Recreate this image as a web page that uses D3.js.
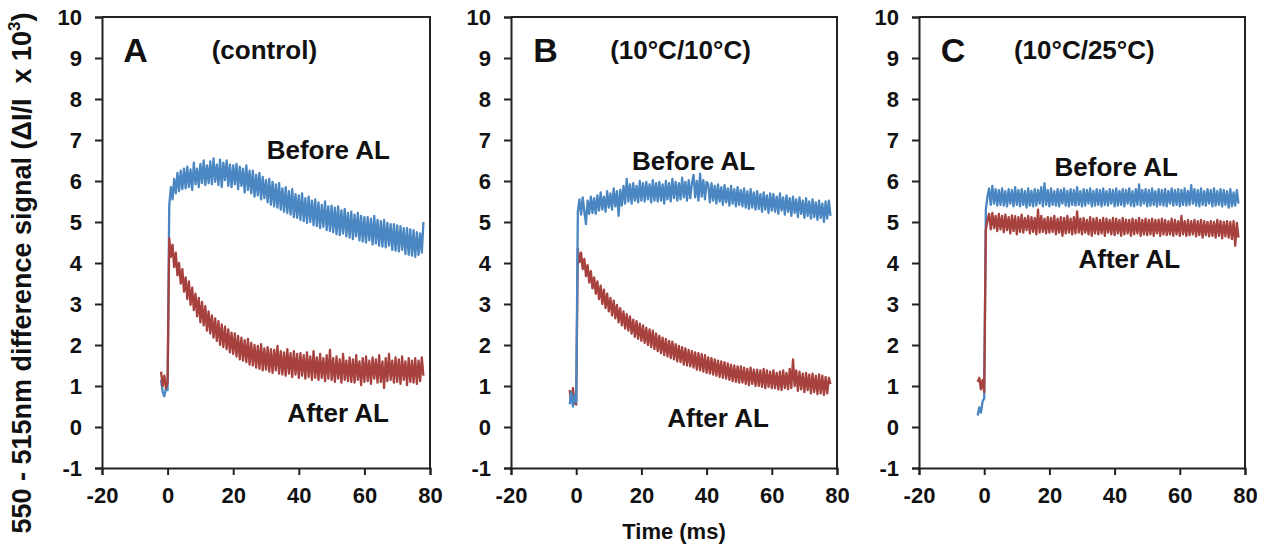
<!DOCTYPE html>
<html>
<head>
<meta charset="utf-8">
<script src="https://cdn.jsdelivr.net/npm/d3@7"></script>
<style>
  html, body { margin: 0; padding: 0; background: #fff; }
  svg { display: block; }
  text { font-family: "Liberation Sans", Arial, sans-serif; font-weight: bold; fill: #111; }
</style>
</head>
<body>
<svg id="chart" width="1271" height="549"></svg>
<script>
// ---------------- DATA ----------------
const panelIds = ["A", "B", "C"];
const panelConditions = ["(control)", "(10°C/10°C)", "(10°C/25°C)"];
const seriesNames = ["Before AL", "After AL"];
const xTicks = [-20, 0, 20, 40, 60, 80];
const yTicks = [-1, 0, 1, 2, 3, 4, 5, 6, 7, 8, 9, 10];
const xTitle = "Time (ms)";
const yTitle = "550 - 515nm difference signal (\u0394I/I  x 10";
const yTitleSup = "3";

// sample times (ms): -2 ... 78 every 0.5 ms
const sampleStart = -2, sampleStep = 0.5;

// Panel A (control)
const beforeA = [1.15,0.85,0.75,0.95,0.90,
5.40,5.85,5.55,6.05,5.70,6.20,5.75,6.25,5.80,6.30,
5.82,6.35,5.85,6.28,5.78,6.45,5.92,6.30,5.85,6.42,
5.95,6.50,5.90,6.38,5.95,6.48,5.92,6.55,5.98,6.40,
5.90,6.52,5.85,6.45,6.02,6.50,5.88,6.40,5.85,6.38,
5.92,6.42,5.80,6.35,5.88,6.30,5.72,6.38,5.78,6.25,
5.70,6.25,5.62,6.15,5.65,6.20,5.55,6.10,5.58,6.02,
5.48,6.05,5.42,5.98,5.38,5.92,5.35,5.95,5.30,5.82,
5.25,5.85,5.22,5.75,5.18,5.80,5.12,5.68,5.10,5.65,
5.05,5.70,5.02,5.58,4.98,5.62,5.00,5.52,4.92,5.55,
4.90,5.48,4.85,5.42,4.88,5.50,4.80,5.38,4.78,5.40,
4.75,5.35,4.70,5.38,4.68,5.28,4.72,5.32,4.65,5.22,
4.62,5.25,4.58,5.18,4.65,5.22,4.55,5.15,4.52,5.12,
4.50,5.12,4.55,5.08,4.45,5.15,4.48,5.05,4.42,5.02,
4.40,5.05,4.38,4.98,4.42,4.95,4.32,4.95,4.30,4.92,
4.28,4.90,4.32,4.85,4.22,4.85,4.20,4.82,4.18,4.80,
4.15,4.75,4.20,4.72,4.25,5.00];
const afterA = [1.35,1.00,1.25,0.95,1.10,
4.60,4.15,4.45,3.90,4.25,3.70,4.00,3.50,3.85,3.30,
3.65,3.12,3.55,2.98,3.40,2.85,3.25,2.70,3.15,2.55,
3.05,2.48,2.95,2.35,2.82,2.28,2.72,2.18,2.65,2.10,
2.58,2.00,2.50,1.95,2.45,1.90,2.38,1.82,2.30,1.78,
2.28,1.72,2.22,1.65,2.18,1.62,2.12,1.58,2.15,1.52,
2.05,1.50,2.00,1.45,1.98,1.42,2.02,1.38,1.92,1.40,
1.95,1.35,1.90,1.32,1.88,1.38,1.98,1.30,1.85,1.28,
1.82,1.25,1.90,1.30,1.80,1.22,1.85,1.28,1.78,1.20,
1.80,1.25,1.75,1.18,1.82,1.22,1.72,1.15,1.85,1.20,
1.70,1.15,1.78,1.20,1.68,1.12,1.75,1.18,1.88,1.15,
1.68,1.10,1.72,1.18,1.65,1.08,1.78,1.15,1.62,1.12,
1.70,1.10,1.65,1.08,1.75,1.15,1.60,1.02,1.68,1.10,
1.72,1.12,1.62,1.05,1.70,1.18,1.65,1.08,1.75,1.10,
1.60,0.95,1.68,1.12,1.78,1.15,1.62,1.08,1.70,1.10,
1.65,1.05,1.72,1.15,1.60,1.02,1.68,1.10,1.62,1.08,
1.68,1.05,1.62,1.12,1.70,1.25];

// Panel B (10°C/10°C)
const beforeB = [0.55,0.85,0.50,0.78,0.60,
5.25,5.55,5.18,5.60,5.25,4.95,5.52,5.20,5.62,5.22,
5.58,5.20,5.65,5.28,5.72,5.30,5.62,5.25,5.75,5.35,
5.70,5.30,5.82,5.38,5.75,5.15,5.78,5.40,5.88,5.45,
6.05,5.50,5.92,5.45,5.95,5.52,5.88,5.48,6.00,5.52,
5.95,5.50,5.98,5.55,5.92,5.48,6.02,5.52,5.95,5.50,
5.98,5.52,5.92,5.45,6.00,5.55,5.95,5.50,6.05,5.58,
5.98,5.52,5.95,5.55,6.08,5.60,5.98,5.52,6.02,5.58,
5.95,6.15,5.60,6.00,5.52,6.18,5.62,6.02,5.55,5.98,
5.92,5.48,5.95,5.52,5.88,5.45,5.92,5.50,5.85,5.42,
5.90,5.48,5.82,5.40,5.88,5.45,5.80,5.38,5.85,5.42,
5.78,5.38,5.82,5.35,5.75,5.32,5.80,5.35,5.72,5.30,
5.75,5.32,5.68,5.25,5.72,5.30,5.65,5.22,5.70,5.28,
5.68,5.25,5.62,5.20,5.70,5.28,5.60,5.18,5.65,5.25,
5.58,5.15,5.62,5.22,5.55,5.12,5.60,5.20,5.52,5.10,
5.58,5.15,5.50,5.08,5.55,5.12,5.48,5.05,5.52,5.10,
5.45,5.00,5.50,5.08,5.52,5.15];
const afterB = [0.90,0.62,0.95,0.58,0.55,
4.35,4.02,4.25,3.85,4.10,3.68,3.95,3.52,3.80,3.38,
3.65,3.25,3.55,3.12,3.45,3.00,3.35,2.90,3.25,2.82,
3.15,2.72,3.08,2.65,2.98,2.55,2.90,2.48,2.82,2.40,
2.75,2.35,2.70,2.28,2.62,2.20,2.58,2.15,2.52,2.10,
2.48,2.05,2.42,2.00,2.38,1.95,2.35,1.90,2.28,1.85,
2.22,1.80,2.18,1.75,2.15,1.72,2.10,1.68,2.08,1.65,
2.02,1.60,1.98,1.58,1.95,1.52,1.92,1.50,1.88,1.48,
1.85,1.45,1.82,1.40,1.80,1.38,1.78,1.35,1.75,1.32,
1.70,1.30,1.68,1.28,1.65,1.25,1.62,1.22,1.60,1.20,
1.58,1.18,1.55,1.15,1.52,1.12,1.50,1.10,1.48,1.08,
1.48,1.08,1.45,1.05,1.42,1.02,1.45,1.05,1.40,1.00,
1.40,1.00,1.38,0.98,1.42,0.95,1.38,0.98,1.35,0.95,
1.38,0.95,1.32,0.92,1.35,0.90,1.38,0.95,1.32,0.92,
1.42,0.95,1.65,1.00,1.38,0.88,1.35,0.92,1.30,0.85,
1.32,0.90,1.28,0.82,1.30,0.85,1.25,0.80,1.28,0.82,
1.25,0.78,1.22,0.82,1.20,1.05];

// Panel C (10°C/25°C)
const beforeC = [0.28,0.48,0.35,0.62,0.70,
5.30,5.62,5.82,5.42,5.88,5.45,5.80,5.40,5.78,5.42,
5.82,5.40,5.75,5.38,5.80,5.45,5.78,5.38,5.85,5.42,
5.78,5.38,5.80,5.42,5.75,5.35,5.82,5.40,5.76,5.38,
5.80,5.40,5.78,5.45,5.85,5.38,5.95,5.42,5.78,5.38,
5.82,5.42,5.75,5.40,5.80,5.38,5.78,5.45,5.82,5.40,
5.76,5.38,5.80,5.42,5.78,5.40,5.85,5.42,5.75,5.38,
5.80,5.40,5.78,5.45,5.82,5.38,5.76,5.40,5.80,5.42,
5.78,5.38,5.82,5.42,5.75,5.40,5.80,5.45,5.78,5.38,
5.82,5.40,5.76,5.42,5.80,5.38,5.78,5.45,5.82,5.40,
5.75,5.38,5.80,5.42,5.92,5.40,5.78,5.45,5.80,5.38,
5.78,5.40,5.82,5.42,5.75,5.38,5.80,5.42,5.78,5.40,
5.80,5.38,5.76,5.45,5.82,5.40,5.78,5.42,5.80,5.38,
5.78,5.42,5.82,5.40,5.76,5.42,5.90,5.45,5.80,5.40,
5.78,5.38,5.82,5.42,5.75,5.40,5.80,5.45,5.78,5.38,
5.82,5.40,5.76,5.42,5.80,5.38,5.78,5.42,5.75,5.35,
5.80,5.38,5.72,5.40,5.78,5.45];
const afterC = [1.10,1.20,0.92,1.15,0.85,
4.80,5.05,5.20,4.82,5.22,4.85,5.15,4.78,5.20,4.82,
5.15,4.75,5.18,4.80,5.12,4.72,5.16,4.78,5.14,4.70,
5.12,4.76,5.18,4.74,5.10,4.80,5.15,4.72,5.12,4.76,
5.10,4.70,5.30,4.74,5.15,4.76,5.08,4.72,5.12,4.74,
5.10,4.76,5.15,4.70,5.08,4.74,5.12,4.66,5.10,4.72,
5.15,4.74,5.08,4.70,5.12,4.72,5.26,4.74,5.08,4.70,
5.10,4.74,5.05,4.70,5.12,4.66,5.08,4.72,5.10,4.70,
5.05,4.72,5.10,4.66,5.08,4.74,5.05,4.70,5.10,4.68,
5.08,4.72,5.05,4.66,5.10,4.70,5.06,4.72,5.05,4.66,
5.08,4.70,5.05,4.72,5.10,4.66,5.05,4.70,5.08,4.68,
5.05,4.70,5.08,4.66,5.05,4.72,5.06,4.66,5.08,4.70,
5.05,4.68,5.02,4.70,5.08,4.66,5.05,4.70,5.02,4.66,
5.15,4.70,5.02,4.66,5.05,4.68,5.02,4.70,5.05,4.65,
5.02,4.68,5.05,4.62,5.02,4.68,5.00,4.65,5.02,4.66,
5.00,4.62,5.05,4.66,5.02,4.60,5.00,4.65,5.02,4.62,
5.00,4.58,5.02,4.42,4.98,4.62];

const beforeSeries = [beforeA, beforeB, beforeC];
const afterSeries = [afterA, afterB, afterC];

// label anchor points (data units: ms, signal)
const letterPos = [[-13.5, 9.2], [-13.2, 9.2], [-13.3, 9.2]];
const condPos = [[29.5, 9.2], [32, 9.2], [30.7, 9.2]];
const beforeLabelPos = [[49, 6.75], [36, 6.5], [40.5, 6.35]];
const afterLabelPos = [[52, 0.35], [43.5, 0.22], [44.5, 4.1]];

// ---------------- LAYOUT / STYLE ----------------
const colors = { before: "#4a87c2", after: "#a6413e" };
const panelX = [[102, 430], [511, 837], [919, 1245]];
const plotTop = 17, plotBottom = 468;

const svg = d3.select("#chart");
const y = d3.scaleLinear().domain([-1, 10]).range([plotBottom, plotTop]);
const fmt = d => String(d);

panelIds.forEach((pid, i) => {
  const x = d3.scaleLinear().domain([-20, 80]).range(panelX[i]);
  const g = svg.append("g");

  const toPts = arr => arr.map((v, k) => [sampleStart + k * sampleStep, v]);
  const line = d3.line().x(d => x(d[0])).y(d => y(d[1]));

  const drawOrder = (i === 1) ? ["after", "before"] : ["before", "after"];
  drawOrder.forEach(key => {
    const data = key === "before" ? beforeSeries[i] : afterSeries[i];
    g.append("path")
      .attr("d", line(toPts(data)))
      .attr("fill", "none")
      .attr("stroke", colors[key])
      .attr("stroke-width", 2.3)
      .attr("stroke-linejoin", "round");
  });

  // frame top/right
  g.append("path")
    .attr("d", `M${x(-20)},${y(10)}H${x(80)}V${y(-1)}`)
    .attr("fill", "none").attr("stroke", "#222").attr("stroke-width", 2);

  const yAxis = d3.axisLeft(y).tickValues(yTicks).tickSize(7).tickPadding(13).tickFormat(fmt);
  const xAxis = d3.axisBottom(x).tickValues(xTicks).tickSize(7).tickPadding(12).tickFormat(fmt);

  const ya = g.append("g").attr("transform", `translate(${x(-20)},0)`).call(yAxis);
  const xa = g.append("g").attr("transform", `translate(0,${y(-1)})`).call(xAxis);
  [ya, xa].forEach(a => {
    a.select(".domain").attr("stroke", "#222").attr("stroke-width", 2);
    a.selectAll(".tick line").attr("stroke", "#222").attr("stroke-width", 2);
    a.selectAll(".tick text").style("font-family", '"Liberation Sans", Arial, sans-serif')
      .style("font-weight", "bold").style("font-size", "22px").attr("fill", "#111");
  });

  g.append("text").attr("x", x(letterPos[i][0])).attr("y", y(letterPos[i][1]))
    .attr("dominant-baseline", "central").style("font-size", "34px").text(pid);
  g.append("text").attr("x", x(condPos[i][0])).attr("y", y(condPos[i][1]))
    .attr("text-anchor", "middle").attr("dominant-baseline", "central").style("font-size", "26px")
    .text(panelConditions[i]);
  g.append("text").attr("x", x(beforeLabelPos[i][0])).attr("y", y(beforeLabelPos[i][1]))
    .attr("text-anchor", "middle").attr("dominant-baseline", "central").style("font-size", "26px")
    .text(seriesNames[0]);
  g.append("text").attr("x", x(afterLabelPos[i][0])).attr("y", y(afterLabelPos[i][1]))
    .attr("text-anchor", "middle").attr("dominant-baseline", "central").style("font-size", "26px")
    .text(seriesNames[1]);

  if (i === 1) {
    g.append("text").attr("x", (panelX[i][0] + panelX[i][1]) / 2).attr("y", 539)
      .attr("text-anchor", "middle").style("font-size", "22px").text(xTitle);
  }
});

// y-axis title
const yt = svg.append("text")
  .attr("transform", `translate(31,273) rotate(-90)`)
  .attr("text-anchor", "middle").style("font-size", "27px").style("white-space", "pre");
yt.append("tspan").text(yTitle);
yt.append("tspan").attr("dy", -11).style("font-size", "17px").text(yTitleSup);
yt.append("tspan").attr("dy", 11).text(")");
</script>
</body>
</html>
